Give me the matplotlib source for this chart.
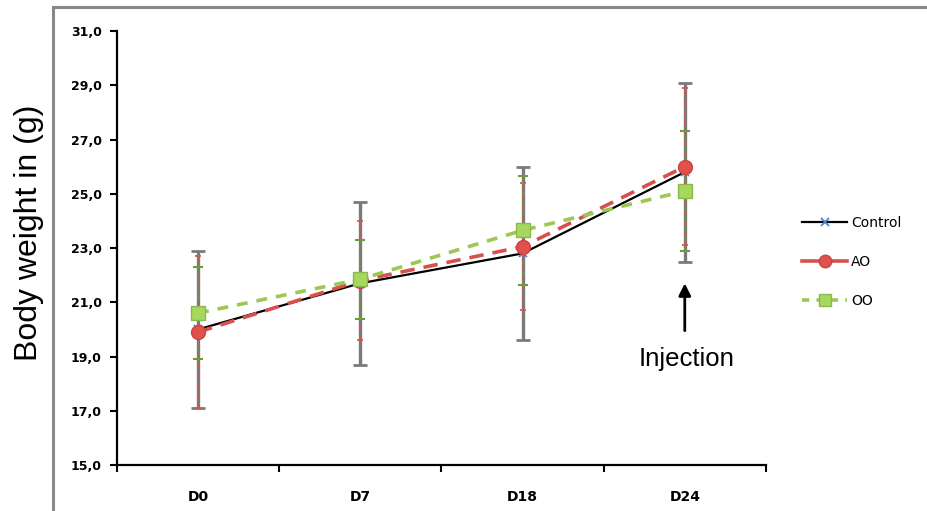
import matplotlib.pyplot as plt
from matplotlib.lines import Line2D
from matplotlib.ticker import FuncFormatter

days = ['D0', 'D7', 'D18', 'D24']

control = [20.0, 21.7, 22.8, 25.8]
control_err = [2.9, 3.0, 3.2, 3.3]

ao = [19.9, 21.8, 23.05, 26.0]
ao_err = [2.8, 2.2, 2.35, 2.9]

oo = [20.6, 21.85, 23.65, 25.1]
oo_err = [1.7, 1.45, 2.0, 2.2]

red = '#d6504d'
green = '#9bc850'

fig = plt.figure(figsize=(9.27, 5.11), dpi=100)
ax = fig.add_axes([0.1262, 0.090, 0.700, 0.8493])
x = list(range(len(days)))

# error bars first, control under the others
eb = ax.errorbar(x, control, yerr=control_err, fmt='none', ecolor='#7a7a7a',
                 elinewidth=2.4, capsize=5, capthick=2, zorder=2)
eb = ax.errorbar(x, ao, yerr=ao_err, fmt='none', ecolor=red,
                 elinewidth=1.2, capsize=2.5, capthick=1.2, zorder=3)
eb[2][0].set_linestyle((0, (3, 3)))
eb = ax.errorbar(x, oo, yerr=oo_err, fmt='none', ecolor='#6f9a3a',
                 elinewidth=1.2, capsize=3.5, capthick=1.5, zorder=3)
eb[2][0].set_linestyle((0, (2, 4)))

ax.plot(x, control, color='black', lw=1.6, marker='x', ms=6,
        mec='#4a86d0', mew=1.3, zorder=4, label='Control')
ax.plot(x, ao, color=red, lw=2.6, ls=(0, (4, 2.5)), marker='o', ms=10,
        mfc='#e2504c', mec='#c94441', mew=1, zorder=5, label='AO')
ax.plot(x, oo, color=green, lw=2.6, ls=(0, (3, 2.5)), marker='s', ms=10,
        mfc='#a6d85e', mec='#8bb84a', mew=1, zorder=6, label='OO')

ax.set_xlim(-0.5, 3.5)
ax.set_ylim(15, 31)
ax.set_yticks(range(15, 32, 2))
ax.yaxis.set_major_formatter(FuncFormatter(lambda v, p: '{:.1f}'.format(v).replace('.', ',')))
ax.set_xticks(x)
ax.set_xticklabels(days)
ax.set_xticks([-0.5, 0.5, 1.5, 2.5, 3.5], minor=True)
ax.tick_params(axis='x', which='major', length=0, pad=18)
ax.tick_params(axis='x', which='minor', length=5, width=1.5, direction='out')
ax.tick_params(axis='y', length=5, width=1.5, direction='out', pad=6)
for lab in ax.get_xticklabels():
    lab.set_fontweight('bold')
    lab.set_fontsize(10)
for lab in ax.get_yticklabels():
    lab.set_fontweight('bold')
    lab.set_fontsize(9)

for s in ['top', 'right']:
    ax.spines[s].set_visible(False)
for s in ['left', 'bottom']:
    ax.spines[s].set_linewidth(1.6)

ax.set_ylabel('Body weight in (g)', fontsize=23, family='Liberation Sans')
ax.yaxis.set_label_coords(-0.113, 0.535)

ax.annotate('', xy=(3, 21.8), xytext=(3, 19.85),
            arrowprops=dict(arrowstyle='-|>', color='black', lw=2, mutation_scale=18))
ax.text(3.01, 18.9, 'Injection', ha='center', va='center', fontsize=18.5,
        family='Liberation Sans')

handles = [
    Line2D([], [], color='black', lw=1.6, marker='x', ms=6, mec='#4a86d0', mew=1.3),
    Line2D([], [], color=red, lw=2.6, marker='o', ms=9, mfc='#e2504c', mec='#c94441'),
    Line2D([], [], color=green, lw=2.6, ls=(0, (2, 2)), marker='s', ms=9,
           mfc='#a6d85e', mec='#8bb84a'),
]
fig.legend(handles, ['Control', 'AO', 'OO'], loc='center left',
           bbox_to_anchor=(0.852, 0.487), frameon=False, fontsize=10,
           labelspacing=1.8, handlelength=3.2, handletextpad=0.3)

# gray frame around the chart
fig.add_artist(Line2D([0.057, 0.057], [0, 0.986], color='#888888', lw=2.2))
fig.add_artist(Line2D([0.057, 1.0], [0.986, 0.986], color='#888888', lw=2.2))

fig.savefig('out.png', dpi=100)
